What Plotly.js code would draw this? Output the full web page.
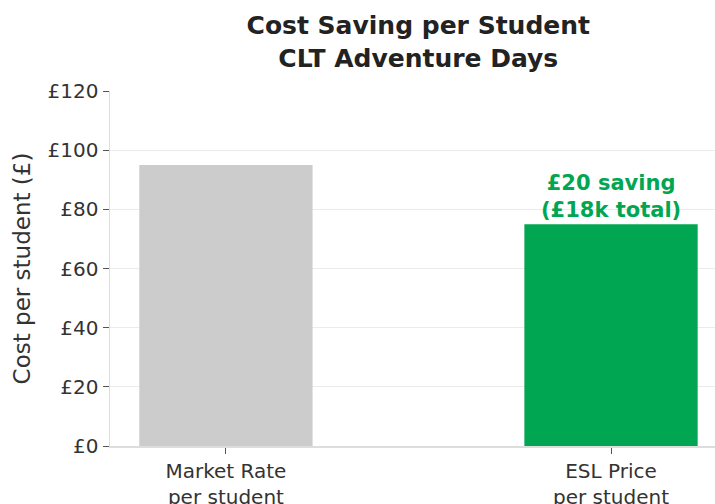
<!DOCTYPE html>
<html>
<head>
<meta charset="utf-8">
<script src="https://cdn.plot.ly/plotly-3.0.1.min.js"></script>
<style>html,body{margin:0;padding:0;background:#fff;}#chart{width:715px;height:504px;}</style>
</head>
<body>
<div id="chart"></div>
<script>
const categories = ["Market Rate<br>per student", "ESL Price<br>per student"];
const costs = [95, 75];
const barColors = ["#cccccc", "#00a651"];
const yTicks = [0, 20, 40, 60, 80, 100, 120];
const yTickLabels = ["£0", "£20", "£40", "£60", "£80", "£100", "£120"];
const annotationText = "£20 saving<br>(£18k total)";

const font = "DejaVu Sans, sans-serif";

const data = [{
  type: "bar",
  x: categories,
  y: costs,
  marker: {color: barColors, line: {width: 0}},
  width: 0.45,
  hoverinfo: "none"
}];

const layout = {
  width: 715, height: 504,
  margin: {l: 110, r: 0, t: 91, b: 58},
  paper_bgcolor: "#fff", plot_bgcolor: "#fff",
  showlegend: false,
  font: {family: font, color: "#333", size: 20},
  title: {
    text: "<b>Cost Saving per Student<br>CLT Adventure Days</b>",
    font: {family: font, size: 25, color: "#222"},
    xref: "container", x: 0.585, xanchor: "center",
    yref: "container", y: 0.932, yanchor: "middle"
  },
  xaxis: {
    type: "category",
    range: [-0.301, 1.27],
    showgrid: false,
    showline: true, linecolor: "#dddddd", linewidth: 1.5,
    ticks: "outside", ticklen: 6, tickcolor: "#555", tickwidth: 1,
    tickfont: {family: font, size: 20, color: "#333"},
    zeroline: false
  },
  yaxis: {
    range: [0, 120],
    tickmode: "array",
    tickvals: yTicks,
    ticktext: yTickLabels,
    showgrid: true, gridcolor: "#ebebeb", gridwidth: 1,
    showline: true, linecolor: "#dddddd", linewidth: 1.5,
    ticks: "outside", ticklen: 6, tickcolor: "#555", tickwidth: 1,
    tickfont: {family: font, size: 20, color: "#333"},
    zeroline: false,
    title: {text: "Cost per student (£)", font: {family: font, size: 23, color: "#333"}, standoff: 10}
  },
  annotations: [{
    x: categories[1], y: costs[1],
    xref: "x", yref: "y",
    text: "<b>" + annotationText + "</b>",
    showarrow: false,
    yanchor: "bottom", yshift: 0,
    font: {family: font, size: 21, color: "#00a651"}
  }]
};

Plotly.newPlot("chart", data, layout, {displayModeBar: false, staticPlot: true});
</script>
</body>
</html>
